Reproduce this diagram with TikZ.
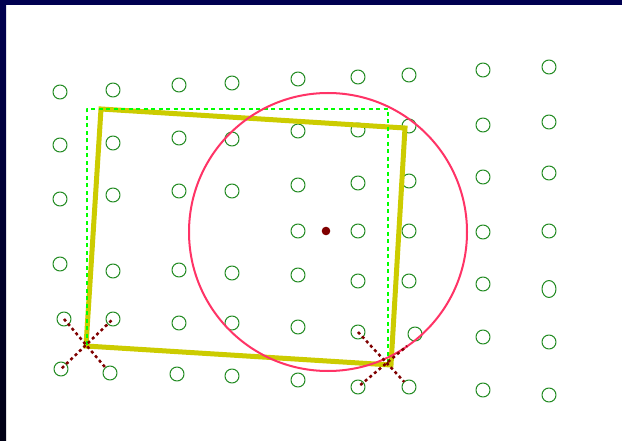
\documentclass[tikz,border=0pt]{standalone}
\usetikzlibrary{calc}
\definecolor{ringgreen}{RGB}{34,139,34}
\definecolor{boxyellow}{RGB}{204,204,0}
\definecolor{limegreen}{RGB}{0,255,0}
\definecolor{rosered}{RGB}{255,51,102}
\definecolor{darkred}{RGB}{128,0,0}
\definecolor{navyedge}{RGB}{0,0,80}

\begin{document}
\begin{tikzpicture}[x=1pt, y=-1pt, line cap=round, line join=round,
    ring/.style={circle, draw=ringgreen, line width=1pt, minimum size=14pt, inner sep=0pt},
    crossline/.style={darkred, line width=2.5pt, line cap=butt, dash pattern=on 3pt off 3pt}]
    \useasboundingbox (0,0) rectangle (622,441);
    \fill[white] (0,0) rectangle (622,441);
    \fill[navyedge] (0,0) rectangle (622,5);
    \shade[top color=navyedge, middle color={rgb,255:red,0;green,0;blue,140}, bottom color={rgb,255:red,0;green,0;blue,20}]
        (0,0) rectangle (6,441);

    \foreach \x/\y [count=\i] in {60/92,113/90,179/85,232/83,298/79,358/77,409/75,483/70,549/67}
        \node[ring] (a\i) at (\x,\y) {};
    \foreach \x/\y [count=\i] in {60/145,113/143,179/138,232/139,298/131,358/130,409/126,483/125,549/122}
        \node[ring] (b\i) at (\x,\y) {};
    \foreach \x/\y [count=\i] in {60/199,113/195,179/191,232/191,298/185,358/183,409/181,483/177,549/173}
        \node[ring] (c\i) at (\x,\y) {};
    \foreach \x/\y [count=\i] in {298/231,358/231,409/231,483/232,549/231}
        \node[ring] (d\i) at (\x,\y) {};
    \foreach \x/\y [count=\i] in {60/264,113/271,179/270,232/273,298/275,358/281,409/281,483/284}
        \node[ring] (e\i) at (\x,\y) {};
    \draw[ringgreen, line width=1pt] (549,289) ellipse (7pt and 8.5pt);
    \foreach \x/\y [count=\i] in {64/319,113/319,179/323,232/323,298/327,358/332,415/334,483/337,549/342}
        \node[ring] (f\i) at (\x,\y) {};
    \foreach \x/\y [count=\i] in {61/369,110/373,177/374,232/376,298/380,358/387,409/387,483/390,549/395}
        \node[ring] (g\i) at (\x,\y) {};

    \draw[boxyellow, line width=5pt, line join=miter]
        (101,109) -- (405,128) -- (391,365) -- (86,346) -- cycle;
    \draw[limegreen, line width=2pt, line cap=butt, dash pattern=on 4pt off 3.5pt]
        (87,345) -- (87,109) -- (388,109) -- (388,362);

    \draw[rosered, line width=2pt] (328,232) circle (139pt);
    \fill[darkred] (326,231) circle (4.3pt);

    \coordinate (brtip) at (407,346);
    \draw[crossline, shorten >=8pt] (f1.center) -- (g2.center);
    \draw[crossline, shorten <=2pt] (f2.center) -- (g1.center);
    \draw[crossline, shorten >=7pt] (f6.center) -- (g7.center);
    \draw[crossline, shorten <=3pt] (g6.center) -- (brtip);
\end{tikzpicture}
\end{document}
